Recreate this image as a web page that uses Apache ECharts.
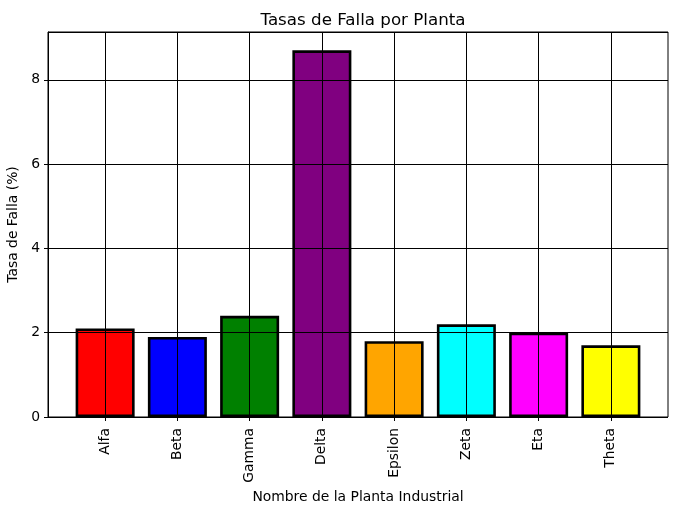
<!DOCTYPE html>
<html>
<head>
<meta charset="utf-8">
<script src="https://cdn.jsdelivr.net/npm/echarts@6.0.0/dist/echarts.min.js"></script>
<style>html,body{margin:0;padding:0;background:#fff}</style>
</head>
<body>
<div id="main" style="width:678px;height:511px"></div>
<script>
var plantas = ['Alfa', 'Beta', 'Gamma', 'Delta', 'Epsilon', 'Zeta', 'Eta', 'Theta'];
var tasas = [2.1, 1.9, 2.4, 8.7, 1.8, 2.2, 2.0, 1.7];
var colores = ['#ff0000', '#0000ff', '#008000', '#800080', '#ffa500', '#00ffff', '#ff00ff', '#ffff00'];
var yTicks = [0, 2, 4, 6, 8];

var font = 'DejaVu Sans';
var yMax = Math.max.apply(null, tasas) * 1.05;

var chart = echarts.init(document.getElementById('main'));

var barData = tasas.map(function (v, i) {
    return { value: v, itemStyle: { color: colores[i] } };
});

var option = {
    backgroundColor: '#fff',
    animation: false,
    title: {
        text: 'Tasas de Falla por Planta',
        left: 358, top: 7, textAlign: 'center',
        textStyle: { fontFamily: font, fontSize: 16.7, fontWeight: 'normal', color: '#000' }
    },
    grid: [
        // frame + horizontal grid
        { left: 48, right: 10, top: 32, bottom: 94, outerBoundsMode: 'none', containLabel: false,
          show: true, borderColor: '#000', borderWidth: 1, backgroundColor: 'transparent' },
        // bars
        { left: 69, width: 578, top: 32, bottom: 94, outerBoundsMode: 'none', containLabel: false }
    ],
    xAxis: [
        { gridIndex: 0, type: 'value', min: 0, max: 1, show: false },
        {
            gridIndex: 1, type: 'category', data: plantas,
            axisLine: { show: false },
            axisTick: { show: true, alignWithLabel: true, length: 4, lineStyle: { color: '#000' } },
            axisLabel: { rotate: 90, color: '#000', fontFamily: font, fontSize: 13.9, margin: 11, interval: 0 },
            splitLine: { show: false },
            name: 'Nombre de la Planta Industrial',
            nameLocation: 'middle', nameGap: 68,
            nameTextStyle: { color: '#000', fontFamily: font, fontSize: 13.9 }
        }
    ],
    yAxis: [
        {
            gridIndex: 0, type: 'value', min: 0, max: yMax, interval: 2,
            z: 5,
            axisLine: { show: true, lineStyle: { color: '#000' } },
            axisTick: { show: true, length: 4, lineStyle: { color: '#000' } },
            axisLabel: {
                color: '#000', fontFamily: font, fontSize: 13.9, margin: 8,
                showMaxLabel: false,
                formatter: function (v) { return yTicks.indexOf(v) >= 0 ? String(v) : ''; }
            },
            splitLine: { show: true, lineStyle: { color: '#000', width: 1 } },
            name: 'Tasa de Falla (%)',
            nameLocation: 'middle', nameGap: 22,
            nameTextStyle: { color: '#000', fontFamily: font, fontSize: 13.9 }
        },
        { gridIndex: 1, type: 'value', min: 0, max: yMax, show: false }
    ],
    series: [{
        type: 'bar',
        xAxisIndex: 1, yAxisIndex: 1,
        barWidth: 59,
        data: barData,
        itemStyle: { borderColor: '#000', borderWidth: 2.6 },
        markLine: {
            silent: true,
            symbol: 'none',
            label: { show: false },
            lineStyle: { color: '#000', width: 1, type: 'solid' },
            data: plantas.map(function (p) { return { xAxis: p }; })
        }
    }]
};

chart.setOption(option);
</script>
</body>
</html>
